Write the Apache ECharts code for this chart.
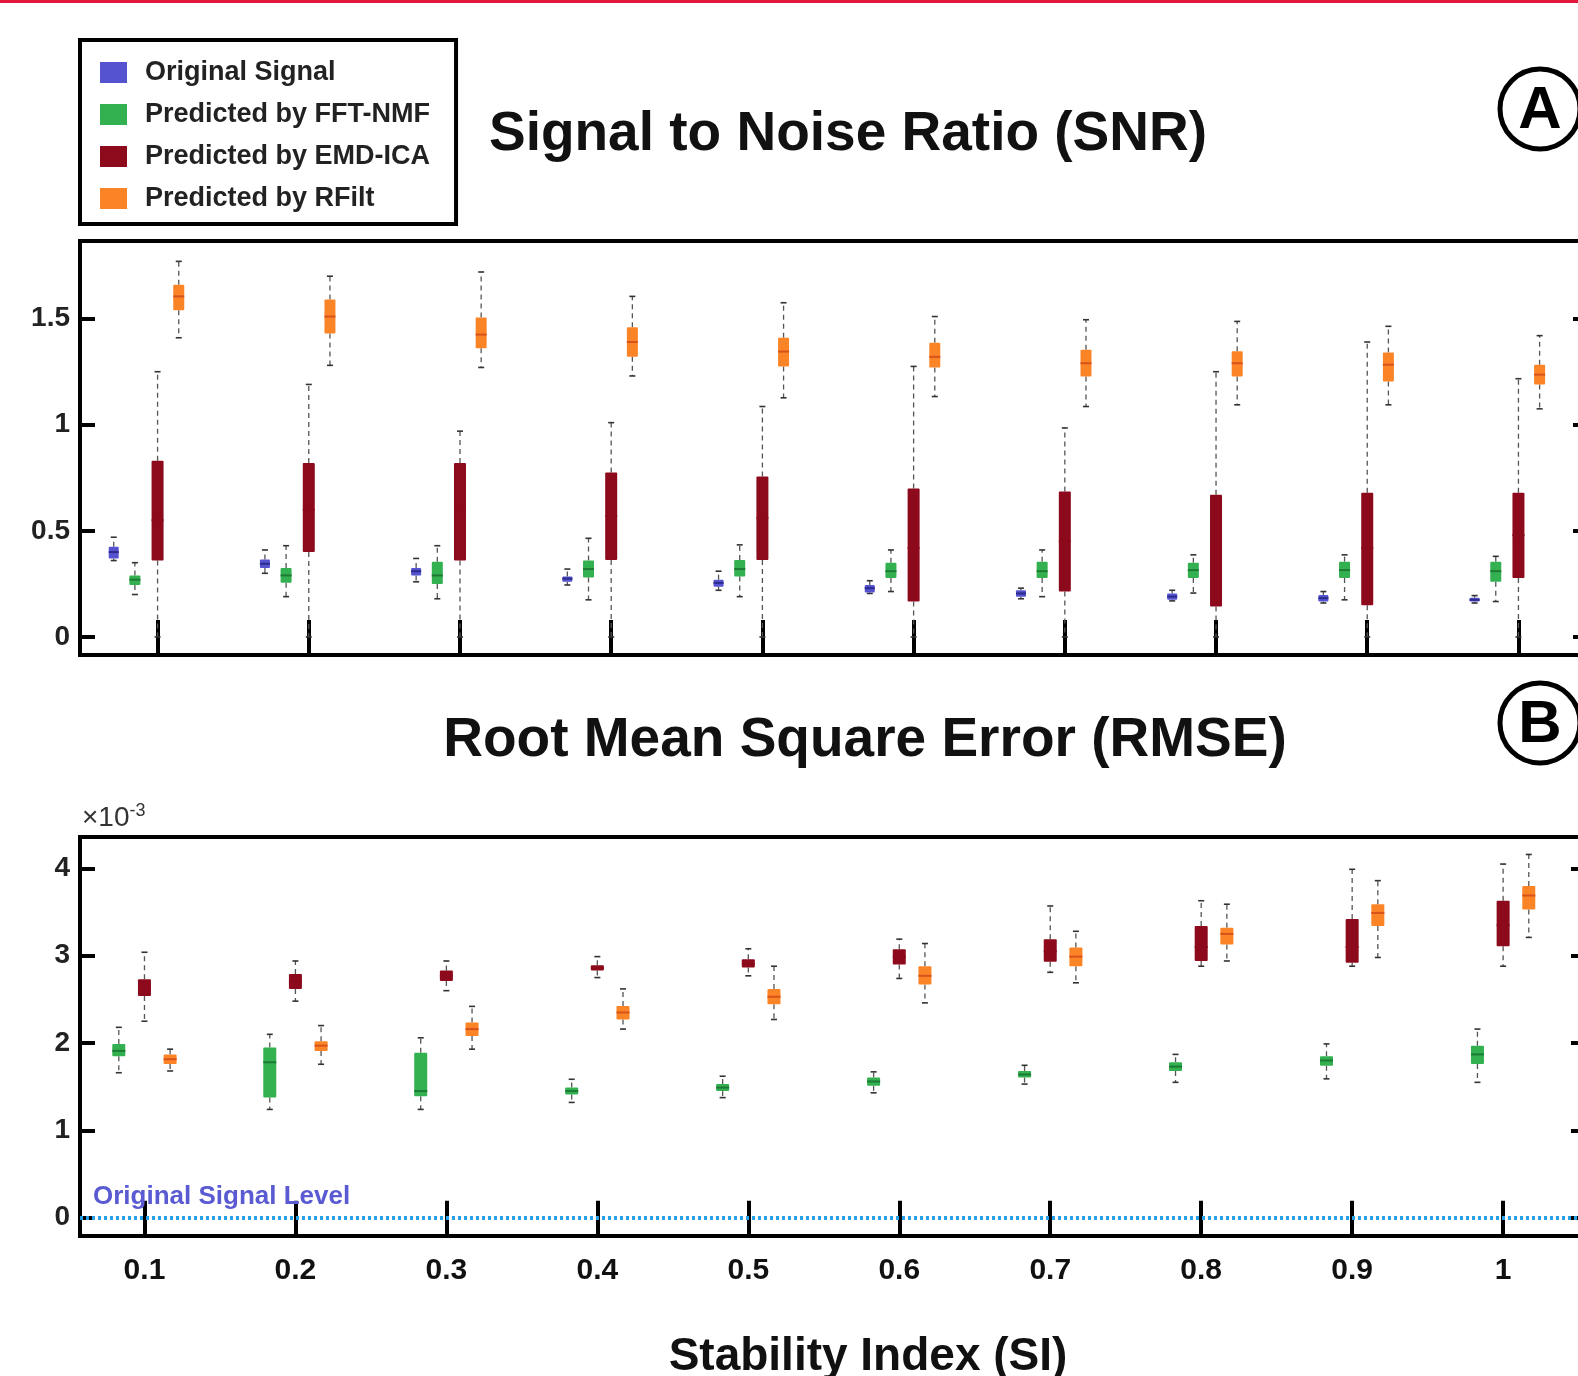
<!DOCTYPE html>
<html>
<head>
<meta charset="utf-8">
<script src="https://cdn.jsdelivr.net/npm/echarts@6/dist/echarts.min.js"></script>
<style>
  html, body { margin: 0; padding: 0; background: #fff; }
  #chart { width: 1578px; height: 1376px; }
</style>
</head>
<body>
<div id="chart"></div>
<script>
// stability index groups
var siValues = [0.1, 0.2, 0.3, 0.4, 0.5, 0.6, 0.7, 0.8, 0.9, 1.0];
var snrTicks = [0, 0.5, 1, 1.5];
var rmseTicks = [0, 1, 2, 3, 4];

// SNR boxes: [min, q1, median, q3, max]
var snrOriginal = [
    [0.36, 0.37, 0.40, 0.425, 0.47], [0.30, 0.325, 0.345, 0.365, 0.41], [0.26, 0.29, 0.31, 0.325, 0.37],
    [0.245, 0.26, 0.275, 0.285, 0.32], [0.22, 0.237, 0.255, 0.27, 0.31], [0.205, 0.21, 0.23, 0.245, 0.265],
    [0.18, 0.19, 0.205, 0.22, 0.23], [0.17, 0.175, 0.19, 0.205, 0.22], [0.16, 0.167, 0.183, 0.198, 0.214],
    [0.16, 0.167, 0.175, 0.185, 0.195]
];
var snrFft = [
    [0.20, 0.245, 0.27, 0.29, 0.35], [0.19, 0.255, 0.29, 0.325, 0.43], [0.18, 0.25, 0.29, 0.355, 0.43],
    [0.175, 0.28, 0.32, 0.36, 0.465], [0.19, 0.285, 0.32, 0.363, 0.434], [0.214, 0.278, 0.31, 0.35, 0.41],
    [0.19, 0.278, 0.31, 0.355, 0.41], [0.207, 0.278, 0.315, 0.35, 0.387], [0.175, 0.278, 0.315, 0.355, 0.387],
    [0.167, 0.26, 0.31, 0.355, 0.38]
];
var snrEmd = [
    [0, 0.36, 0.55, 0.83, 1.25], [0, 0.40, 0.60, 0.82, 1.19], [0, 0.36, 0.60, 0.82, 0.97],
    [0, 0.363, 0.57, 0.775, 1.01], [0, 0.363, 0.56, 0.756, 1.086], [0, 0.167, 0.42, 0.70, 1.275],
    [0, 0.214, 0.45, 0.685, 0.985], [0, 0.143, 0.42, 0.67, 1.25], [0, 0.15, 0.42, 0.68, 1.39],
    [0, 0.278, 0.48, 0.68, 1.217]
];
var snrRfilt = [
    [1.41, 1.54, 1.605, 1.66, 1.77], [1.28, 1.43, 1.51, 1.59, 1.70], [1.27, 1.36, 1.425, 1.505, 1.72],
    [1.23, 1.32, 1.39, 1.46, 1.605], [1.127, 1.275, 1.345, 1.41, 1.575], [1.133, 1.27, 1.32, 1.387, 1.51],
    [1.086, 1.228, 1.29, 1.354, 1.495], [1.094, 1.228, 1.29, 1.346, 1.487], [1.094, 1.204, 1.283, 1.34, 1.464],
    [1.075, 1.19, 1.236, 1.283, 1.42]
];

// RMSE boxes (x 10^-3): [min, q1, median, q3, max]
var rmseFft = [
    [1.66, 1.85, 1.91, 1.99, 2.18], [1.24, 1.375, 1.78, 1.95, 2.10], [1.24, 1.39, 1.45, 1.89, 2.06],
    [1.32, 1.41, 1.45, 1.49, 1.585], [1.375, 1.45, 1.49, 1.53, 1.62], [1.43, 1.51, 1.56, 1.605, 1.67],
    [1.53, 1.605, 1.64, 1.68, 1.745], [1.55, 1.68, 1.73, 1.78, 1.87], [1.59, 1.74, 1.80, 1.85, 1.99],
    [1.55, 1.76, 1.87, 1.97, 2.16]
];
var rmseEmd = [
    [2.25, 2.54, 2.64, 2.73, 3.04], [2.48, 2.62, 2.70, 2.79, 2.94], [2.60, 2.71, 2.77, 2.83, 2.94],
    [2.75, 2.83, 2.86, 2.89, 2.99], [2.77, 2.865, 2.91, 2.96, 3.08], [2.74, 2.90, 2.99, 3.075, 3.19],
    [2.81, 2.93, 3.05, 3.19, 3.57], [2.88, 2.94, 3.10, 3.34, 3.63], [2.88, 2.92, 3.10, 3.42, 3.99],
    [2.88, 3.11, 3.35, 3.63, 4.05]
];
var rmseRfilt = [
    [1.68, 1.76, 1.815, 1.87, 1.93], [1.757, 1.91, 1.97, 2.02, 2.20], [1.93, 2.08, 2.16, 2.235, 2.42],
    [2.16, 2.27, 2.35, 2.425, 2.62], [2.27, 2.445, 2.53, 2.62, 2.88], [2.46, 2.67, 2.77, 2.88, 3.14],
    [2.69, 2.88, 2.99, 3.095, 3.28], [2.94, 3.13, 3.25, 3.32, 3.59], [2.98, 3.34, 3.49, 3.59, 3.86],
    [3.21, 3.53, 3.69, 3.80, 4.16]
];

var names = ['Original Signal', 'Predicted by FFT-NMF', 'Predicted by EMD-ICA', 'Predicted by RFilt'];
var colors = ['#5553cf', '#33b04f', '#8c0a1c', '#fb8427'];
var medColors = ['#2c2a8a', '#1d7a35', '#8c0a1c', '#d8521c'];
var FONT = '"Liberation Sans", Arial, sans-serif';

function toData(boxes, offset) {
    var out = [];
    for (var i = 0; i < boxes.length; i++) {
        out.push([siValues[i] + offset].concat(boxes[i]));
    }
    return out;
}

function boxRenderer(color, medColor, w) {
    return function (params, api) {
        var x = api.value(0);
        var pMin = api.coord([x, api.value(1)]);
        var pQ1 = api.coord([x, api.value(2)]);
        var pMed = api.coord([x, api.value(3)]);
        var pQ3 = api.coord([x, api.value(4)]);
        var pMax = api.coord([x, api.value(5)]);
        var cx = pMin[0];
        var hw = w / 2;
        var whisk = { stroke: '#555', lineWidth: 1.3, lineDash: [5, 4] };
        var cap = { stroke: '#333', lineWidth: 1.6 };
        return {
            type: 'group',
            children: [
                { type: 'line', shape: { x1: cx, y1: pQ3[1], x2: cx, y2: pMax[1] }, style: whisk },
                { type: 'line', shape: { x1: cx, y1: pQ1[1], x2: cx, y2: pMin[1] }, style: whisk },
                { type: 'line', shape: { x1: cx - 3, y1: pMax[1], x2: cx + 3, y2: pMax[1] }, style: cap },
                { type: 'line', shape: { x1: cx - 3, y1: pMin[1], x2: cx + 3, y2: pMin[1] }, style: cap },
                { type: 'rect', shape: { x: cx - hw, y: pQ3[1], width: w, height: Math.max(pQ1[1] - pQ3[1], 3), r: 1 },
                  style: { fill: color } },
                { type: 'line', shape: { x1: cx - hw, y1: pMed[1], x2: cx + hw, y2: pMed[1] },
                  style: { stroke: medColor, lineWidth: 2 } }
            ]
        };
    };
}

function boxSeries(idx, boxes, offset, w, axisIdx) {
    return {
        name: names[idx],
        type: 'custom',
        xAxisIndex: axisIdx,
        yAxisIndex: axisIdx,
        itemStyle: { color: colors[idx] },
        renderItem: boxRenderer(colors[idx], medColors[idx], w),
        encode: { x: 0, y: [1, 2, 3, 4, 5] },
        data: toData(boxes, offset),
        silent: true
    };
}

function xAx(grid, min, max, pos, showLabel) {
    return {
        type: 'value', gridIndex: grid, min: min, max: max, position: pos,
        axisLine: { show: false }, splitLine: { show: false },
        axisTick: { show: true, inside: true, length: 17, customValues: siValues, lineStyle: { width: 4, color: '#000' } },
        axisLabel: { show: showLabel, customValues: siValues, fontSize: 30, fontWeight: 'bold', color: '#111', margin: 20, fontFamily: FONT }
    };
}

function yAx(grid, min, max, pos, ticks, showLabel) {
    return {
        type: 'value', gridIndex: grid, min: min, max: max, position: pos,
        axisLine: { show: false }, splitLine: { show: false },
        axisTick: { show: true, inside: true, length: 15, customValues: ticks, lineStyle: { width: 4, color: '#000' } },
        axisLabel: { show: showLabel, customValues: ticks, fontSize: 28, fontWeight: 'bold', color: '#222', margin: 10, fontFamily: FONT }
    };
}

var chart = echarts.init(document.getElementById('chart'));
var option = {
    backgroundColor: '#fff',
    animation: false,
    textStyle: { fontFamily: FONT },
    grid: [
        { left: 80, right: -10, top: 241, height: 414, show: true, borderColor: '#000', borderWidth: 4, outerBoundsMode: 'none' },
        { left: 80, right: -8, top: 837, height: 399, show: true, borderColor: '#000', borderWidth: 4, outerBoundsMode: 'none' }
    ],
    legend: {
        orient: 'vertical', left: 80, top: 40,
        padding: [19, 26, 12, 20],
        itemGap: 15, itemWidth: 27, itemHeight: 21, icon: 'rect',
        borderColor: '#000', borderWidth: 4,
        data: names,
        textStyle: { fontSize: 27, fontWeight: 'bold', color: '#222', fontFamily: FONT, padding: [0, 0, 0, 13] }
    },
    xAxis: [
        xAx(0, 0.0487, 1.046, 'bottom', false),
        xAx(0, 0.0487, 1.046, 'top', false),
        xAx(1, 0.0573, 1.0549, 'bottom', true),
        xAx(1, 0.0573, 1.0549, 'top', false)
    ],
    yAxis: [
        yAx(0, -0.085, 1.866, 'left', snrTicks, true),
        yAx(0, -0.085, 1.866, 'right', snrTicks, false),
        yAx(1, -0.21, 4.36, 'left', rmseTicks, true),
        yAx(1, -0.21, 4.36, 'right', rmseTicks, false)
    ],
    graphic: [
        { type: 'rect', shape: { x: 0, y: 0, width: 1578, height: 3 }, style: { fill: '#e3163c' } },
        { type: 'text', x: 848, y: 135, style: { text: 'Signal to Noise Ratio (SNR)', font: 'bold 55px ' + FONT, fill: '#111', textAlign: 'center', textVerticalAlign: 'middle' } },
        { type: 'text', x: 865, y: 741, style: { text: 'Root Mean Square Error (RMSE)', font: 'bold 55px ' + FONT, fill: '#111', textAlign: 'center', textVerticalAlign: 'middle' } },
        { type: 'text', x: 868, y: 1357, style: { text: 'Stability Index (SI)', font: 'bold 46px ' + FONT, fill: '#111', textAlign: 'center', textVerticalAlign: 'middle' } },
        { type: 'circle', shape: { cx: 1540, cy: 109, r: 40 }, style: { fill: 'none', stroke: '#000', lineWidth: 5 } },
        { type: 'text', x: 1540, y: 111, style: { text: 'A', font: 'bold 60px ' + FONT, fill: '#000', textAlign: 'center', textVerticalAlign: 'middle' } },
        { type: 'circle', shape: { cx: 1540, cy: 723, r: 40 }, style: { fill: 'none', stroke: '#000', lineWidth: 5 } },
        { type: 'text', x: 1540, y: 725, style: { text: 'B', font: 'bold 60px ' + FONT, fill: '#000', textAlign: 'center', textVerticalAlign: 'middle' } },
        { type: 'text', x: 82, y: 818, style: {
            text: '{a|×10}{b|-3}', textVerticalAlign: 'middle',
            rich: { a: { fontSize: 28, fill: '#333', fontFamily: FONT }, b: { fontSize: 18, fill: '#333', fontFamily: FONT, verticalAlign: 'top', padding: [0, 0, 14, 0] } }
        } }
    ],
    series: [
        boxSeries(0, snrOriginal, -0.029, 10, 0),
        boxSeries(1, snrFft, -0.015, 11, 0),
        boxSeries(2, snrEmd, 0, 12, 0),
        boxSeries(3, snrRfilt, 0.014, 11, 0),
        boxSeries(1, rmseFft, -0.017, 13, 2),
        boxSeries(2, rmseEmd, 0, 13, 2),
        boxSeries(3, rmseRfilt, 0.017, 13, 2),
        {
            type: 'line', xAxisIndex: 2, yAxisIndex: 2, data: [], silent: true,
            markLine: {
                silent: true, symbol: ['none', 'none'],
                lineStyle: { color: '#2a9fe6', width: 4, type: [3, 3] },
                label: { show: true, position: 'insideStartTop', formatter: 'Original Signal Level',
                         color: '#5a5ad2', fontSize: 26, fontWeight: 'bold', fontFamily: FONT, distance: [13, 8] },
                data: [{ yAxis: 0 }]
            }
        }
    ]
};
chart.setOption(option);
</script>
</body>
</html>
